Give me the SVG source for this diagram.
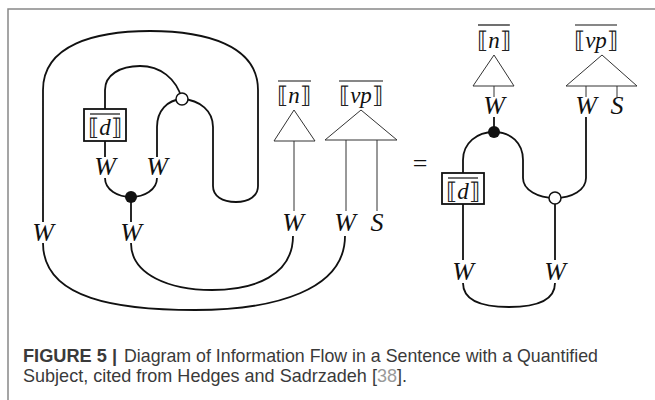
<svg xmlns="http://www.w3.org/2000/svg" width="655" height="400" viewBox="0 0 655 400">
<style>
.w{fill:none;stroke:#111;stroke-width:1.8;stroke-linecap:butt}
.t{fill:none;stroke:#333;stroke-width:1}
.lab{font-family:"Liberation Serif","DejaVu Serif",serif;font-style:italic;font-size:26px;fill:#111;text-anchor:middle}
.br{font-family:"DejaVu Serif","Liberation Serif",serif;font-style:normal;font-size:23px;fill:#222}
.sem{font-family:"Liberation Serif",serif;font-style:italic;font-size:23px;fill:#111;text-anchor:middle}
.ol{stroke:#111;stroke-width:1.2}
.cap{font-family:"Liberation Sans",Arial,sans-serif;font-size:18.5px;fill:#3a3a3a}
</style>
<rect width="655" height="400" fill="#fff"/>
<path d="M8,400 L8,9 L655,9" fill="none" stroke="#888" stroke-width="1.5"/>

<g id="connectors">
<!-- left diagram -->
<path class="w" d="M43,222 L43,90 C43,45 95,31 150,31 C205,31 258,45 258,90 L258,186 C258,196 249,202 236,202 C222,202 213,196 213,186 L213,127 C213,111 200,100 182,99"/>
<path class="w" d="M105,109 L105,90 C105,75 120,66 140,66 C160,66 176,78 182,99"/>
<path class="w" d="M157,157 L157,127 C157,111 167,100 182,99"/>
<path class="w" d="M105,141 L105,157"/>
<path class="w" d="M105,178 C105,190 118,197 131,197 C144,197 157,190 157,178"/>
<path class="w" d="M131,197 L131,222"/>
<path class="w" d="M131,243 C131,275 170,290 212,290 C255,290 293,275 293,236"/>
<path class="w" d="M43,243 C43,300 120,310 195,310 C275,310 345,290 345,236"/>
<path class="t" d="M294,141 L294,211 M346,140 L346,211 M377,140 L377,211"/>
<!-- right diagram -->
<path class="t" d="M494,86 L494,97 M586,86 L586,97 M617,86 L617,97"/>
<path class="w" d="M494,117 L494,132"/>
<path class="w" d="M463,173 L463,160 C463,143 477,132 494,132 C511,132 523,143 523,160 L523,178 C523,190 538,198 555,198 C572,198 586,190 586,178 L586,117"/>
<path class="w" d="M463,204 L463,260 M555,204 L555,260"/>
<path class="w" d="M463,283 C463,300 480,307 509,307 C538,307 555,300 555,283"/>
</g>

<g id="left-d">
<rect x="84" y="109" width="42" height="32" fill="#fff" stroke="#111" stroke-width="1.8"/>
<line class="ol" x1="90" y1="114" x2="120" y2="114"/>
<text x="105" y="135" class="sem"><tspan class="br">⟦</tspan>d<tspan class="br">⟧</tspan></text>
</g>
<g id="left-white-dot"><circle cx="182" cy="99" r="6" fill="#fff" stroke="#111" stroke-width="1.5"/></g>
<g id="left-black-dot"><circle cx="131" cy="197" r="6" fill="#111"/></g>
<g id="left-W-labels">
<text class="lab" x="105" y="175">W</text>
<text class="lab" x="157" y="175">W</text>
<text class="lab" x="43" y="241">W</text>
<text class="lab" x="131" y="241">W</text>
<text class="lab" x="293" y="231">W</text>
<text class="lab" x="345" y="231">W</text>
<text class="lab" x="377" y="231">S</text>
</g>
<g id="left-n">
<polygon points="294,110 274,141 315,141" fill="#fff" stroke="#333" stroke-width="1"/>
<line class="ol" x1="278" y1="81" x2="311" y2="81"/>
<text x="294" y="103" class="sem"><tspan class="br">⟦</tspan>n<tspan class="br">⟧</tspan></text>
</g>
<g id="left-vp">
<polygon points="361,110 325,140 397,140" fill="#fff" stroke="#333" stroke-width="1"/>
<line class="ol" x1="339" y1="81" x2="383" y2="81"/>
<text x="361" y="103" class="sem"><tspan class="br">⟦</tspan>vp<tspan class="br">⟧</tspan></text>
</g>

<g id="equals">
<text x="420" y="172" font-family="Liberation Serif,serif" font-size="26" text-anchor="middle" fill="#111">=</text>
</g>

<g id="right-n">
<polygon points="494,55 473,86 514,86" fill="#fff" stroke="#333" stroke-width="1"/>
<line class="ol" x1="478" y1="25" x2="510" y2="25"/>
<text x="494" y="48" class="sem"><tspan class="br">⟦</tspan>n<tspan class="br">⟧</tspan></text>
<text class="lab" x="494" y="114">W</text>
</g>
<g id="right-vp">
<polygon points="602,55 566,86 637,86" fill="#fff" stroke="#333" stroke-width="1"/>
<line class="ol" x1="575" y1="25" x2="617" y2="25"/>
<text x="596" y="48" class="sem"><tspan class="br">⟦</tspan>vp<tspan class="br">⟧</tspan></text>
<text class="lab" x="586" y="114">W</text>
<text class="lab" x="617" y="114">S</text>
</g>
<g id="right-black-dot"><circle cx="494" cy="132" r="6" fill="#111"/></g>
<g id="right-d">
<rect x="442" y="173" width="42" height="31" fill="#fff" stroke="#111" stroke-width="1.8"/>
<line class="ol" x1="448" y1="178" x2="478" y2="178"/>
<text x="463" y="199" class="sem"><tspan class="br">⟦</tspan>d<tspan class="br">⟧</tspan></text>
</g>
<g id="right-white-dot"><circle cx="555" cy="198" r="6" fill="#fff" stroke="#111" stroke-width="1.5"/></g>
<g id="right-W-labels">
<text class="lab" x="463" y="280">W</text>
<text class="lab" x="555" y="280">W</text>
</g>

<g id="caption">
<text class="cap" x="23" y="362" font-weight="bold" textLength="94" lengthAdjust="spacingAndGlyphs">FIGURE 5 |</text>
<text class="cap" x="124" y="362" textLength="474" lengthAdjust="spacingAndGlyphs">Diagram of Information Flow in a Sentence with a Quantified</text>
<text class="cap" x="23" y="382" textLength="384" lengthAdjust="spacingAndGlyphs">Subject, cited from Hedges and Sadrzadeh [<tspan fill="#999">38</tspan>].</text>
</g>
</svg>
